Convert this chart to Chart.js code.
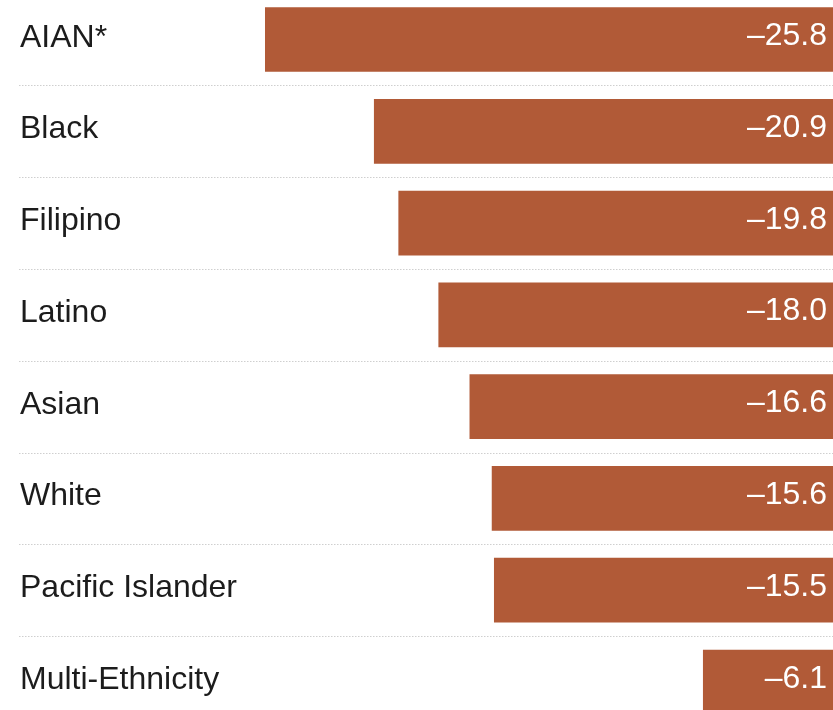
<!DOCTYPE html>
<html>
<head>
<meta charset="utf-8">
<script src="https://cdn.jsdelivr.net/npm/chart.js@4"></script>
<style>
  html, body { margin: 0; padding: 0; background: #fff; }
  #wrap { width: 833px; height: 710px; }
</style>
</head>
<body>
<div id="wrap"><canvas id="bars" width="833" height="710"></canvas></div>
<script>
// data
var groups = ['AIAN*', 'Black', 'Filipino', 'Latino', 'Asian', 'White', 'Pacific Islander', 'Multi-Ethnicity'];
var changes = [-25.8, -20.9, -19.8, -18.0, -16.6, -15.6, -15.5, -6.1];

var barColor = '#b15a37';

function fmt(v){
    // uses an en dash like the original
    return (v < 0 ? '\u2013' : '') + Math.abs(v).toFixed(1);
}

/* separators + labels drawn from the scales */
var rowDecor = {
    id: 'rowDecor',
    beforeDatasetsDraw: function(chart){
        var ctx = chart.ctx, y = chart.scales.y, area = chart.chartArea;
        ctx.save();
        ctx.strokeStyle = '#cfcfcf';
        ctx.lineWidth = 1;
        ctx.setLineDash([1.5, 1.5]);
        for(var i = 0; i < groups.length - 1; ++i){
            var mid = Math.round((y.getPixelForValue(i) + y.getPixelForValue(i + 1)) / 2) + 0.5;
            ctx.beginPath();
            ctx.moveTo(19, mid);
            ctx.lineTo(area.right, mid);
            ctx.stroke();
        }
        ctx.restore();
    },
    afterDatasetsDraw: function(chart){
        var ctx = chart.ctx, y = chart.scales.y, area = chart.chartArea;
        ctx.save();
        ctx.textBaseline = 'alphabetic';
        for(var i = 0; i < groups.length; ++i){
            var c = y.getPixelForValue(i);
            ctx.font = '32px "Liberation Sans", Arial, sans-serif';
            ctx.fillStyle = '#1c1c1c';
            ctx.textAlign = 'left';
            ctx.fillText(groups[i], 20, c + 7);

            ctx.fillStyle = '#ffffff';
            ctx.textAlign = 'right';
            ctx.fillText(fmt(changes[i]), area.right - 6, c + 5.5);
        }
        ctx.restore();
    }
};

var chart = new Chart(document.getElementById('bars').getContext('2d'), {
    type: 'bar',
    data: {
        labels: groups,
        datasets: [{
            data: changes,
            backgroundColor: barColor,
            borderWidth: 0,
            categoryPercentage: 1,
            barPercentage: 0.705,
            clip: false
        }]
    },
    options: {
        indexAxis: 'y',
        responsive: false,
        animation: false,
        events: [],
        layout: { padding: { top: 39.5, bottom: 28, left: 0, right: 0 } },
        scales: {
            x: { type: 'linear', min: -37.72, max: -0.25, display: false },
            y: { type: 'category', offset: false, display: false }
        },
        plugins: {
            legend: { display: false },
            tooltip: { enabled: false }
        }
    },
    plugins: [rowDecor]
});
</script>
</body>
</html>
